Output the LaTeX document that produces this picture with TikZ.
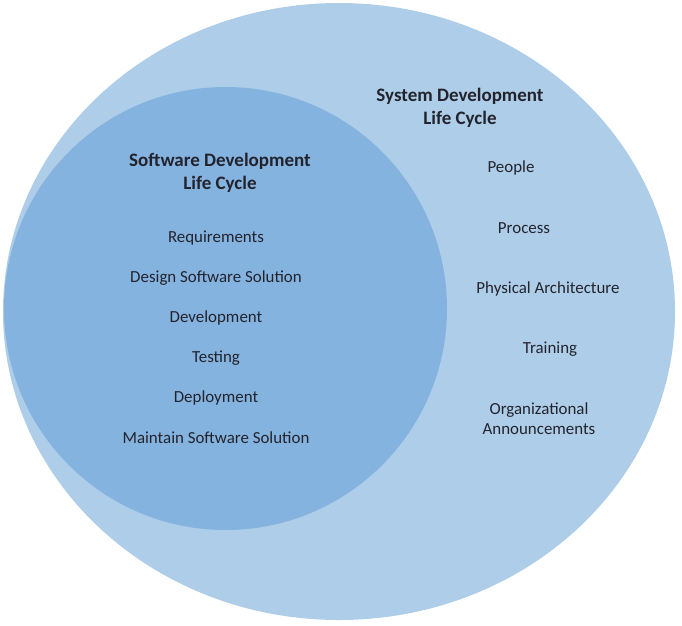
\documentclass[tikz,border=0pt]{standalone}
\usepackage{fontspec}
\setmainfont{Carlito}
\usetikzlibrary{shapes.geometric}
\definecolor{outerblue}{RGB}{174,205,232}
\definecolor{innerblue}{RGB}{133,179,223}
\definecolor{txt}{RGB}{35,35,45}
\tikzset{
  item/.style={text=txt, font=\fontsize{16.9}{20}\selectfont, align=center, inner sep=0pt, anchor=center},
  title/.style={text=txt, font=\fontsize{19}{23}\selectfont\bfseries, align=center, inner sep=0pt, anchor=center},
}
\begin{document}
\begin{tikzpicture}[x=1pt,y=-1pt]
\useasboundingbox (0,0) rectangle (682,625);
\node[ellipse, fill=outerblue, minimum width=672pt, minimum height=617pt, inner sep=0pt] (outer) at (339,311.5) {};
\node[circle, fill=innerblue, minimum size=443pt, inner sep=0pt] (inner) at (225.5,308.5) {};
\node[title] (sdlc) at (220,173) {Software Development\\Life Cycle};
\node[item] (req) at (216,238) {Requirements};
\node[item] (des) at (216,278) {Design Software Solution};
\node[item] (dev) at (216,318) {Development};
\node[item] (tst) at (216,358) {Testing};
\node[item] (dep) at (216,398) {Deployment};
\node[item] (mnt) at (216,438) {Maintain Software Solution};
\node[title] (sys) at (460,108) {System Development\\Life Cycle};
\node[item] (ppl) at (511,168) {People};
\node[item] (prc) at (524,228) {Process};
\node[item] (phy) at (548,289) {Physical Architecture};
\node[item] (trn) at (550,349) {Training};
\node[item] (org) at (539,419) {Organizational\\Announcements};
\end{tikzpicture}
\end{document}
